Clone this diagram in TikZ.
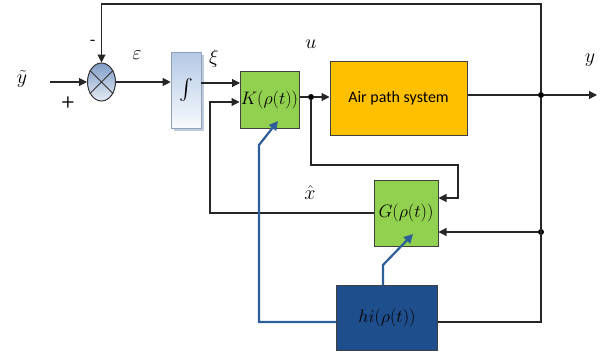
\documentclass[tikz,border=0pt]{standalone}
\usepackage{amsmath}
\usepackage{fontspec}
\usepackage{fix-cm}
\newfontfamily\calibri{Carlito}
\usetikzlibrary{arrows.meta,shapes.geometric,shadows}
\definecolor{kgreen}{HTML}{92D050}
\definecolor{airorange}{HTML}{FFC000}
\definecolor{hiblue}{HTML}{1F4E8C}
\definecolor{arrblue}{HTML}{2F5D99}
\definecolor{intblue}{HTML}{B4C9E6}
\definecolor{sumtop}{HTML}{7F9CC6}
\definecolor{sumbot}{HTML}{E6ECF5}
\begin{document}
\begin{tikzpicture}[x=1pt,y=-1pt,
  line/.style={draw=black!85, line width=1.1pt},
  arr/.style={line, -{Triangle[length=8pt,width=8pt]}},
  blk/.style={draw=black!75, line width=1pt, inner sep=0pt},
  dot/.style={circle, fill=black, inner sep=0pt, minimum size=6pt},
  bluearr/.style={draw=arrblue, line width=2.2pt, -{Triangle[length=9pt,width=9pt]}},
  lbl/.style={font=\fontsize{18}{22}\selectfont},
  sym/.style={font=\fontsize{20}{24}\selectfont}
]
\useasboundingbox (0,0) rectangle (610,356);

% blocks
\node[ellipse, draw=black!80, line width=1pt, minimum width=28pt, minimum height=38pt, inner sep=0pt,
  top color=sumtop, bottom color=sumbot] (sum) at (101.5,82) {};
\draw[line width=0.9pt, black!80] (sum.45) -- (sum.225) (sum.135) -- (sum.315);

\node[rectangle, draw=intblue!80!black, line width=0.6pt, minimum width=30pt, minimum height=76pt, inner sep=0pt,
  top color=intblue, bottom color=white!90!intblue,
  drop shadow={shadow xshift=3pt, shadow yshift=-3pt, fill=intblue!90!black, opacity=0.7}, sym] (int) at (186,90) {$\int$};

\node[blk, fill=kgreen, minimum width=59pt, minimum height=57pt, lbl] (K) at (269.5,99.5) {$K(\rho(t))$};
\node[blk, fill=airorange, minimum width=137pt, minimum height=74pt, font=\calibri\fontsize{16}{19}\selectfont] (air) at (398.5,98) {Air path system};
\node[blk, fill=kgreen, minimum width=64pt, minimum height=66pt, lbl] (G) at (406,213) {$G(\rho(t))$};
\node[blk, fill=hiblue, minimum width=101pt, minimum height=65pt, lbl] (hi) at (387,318) {$hi(\rho(t))$};

% junctions
\node[dot] (ud) at (311,97) {};
\node[dot] (jy) at (541,95) {};
\node[dot] (jg) at (541,232) {};
\coordinate (top) at (541,4);
\coordinate (in) at (50,82);
\coordinate (out) at (597,95);
\coordinate (ky1) at (240,83);
\coordinate (fb) at (210,102);
\coordinate (g1) at (458,165);
\coordinate (kb1) at (259,145);
\coordinate (kb) at (278,121);
\coordinate (gb1) at (383,265);
\coordinate (gb) at (413,234);

% connectors
\draw[arr] (in) -- (sum.west);
\draw[arr] (jy) |- (sum.north |- top) -- (sum.north);
\draw[arr] (sum.east) -- (sum.east -| int.west);
\draw[arr] (int.east |- ky1) -- (ky1);
\draw[arr] (G.west) -| (fb) -- (fb -| K.west);
\draw[line] (K.east |- ud) -- (ud);
\draw[arr] (ud) -- (ud -| air.west);
\draw[arr] (ud) |- (g1) |- ([yshift=15pt]G.east);
\draw[line] (air.east |- jy) -- (jy);
\draw[arr] (jy) -- (out);
\draw[arr] (jg) -- (jg -| G.east);
\draw[line] ([yshift=-4pt]hi.east) -| (jy);
\draw[bluearr] ([yshift=-4pt]hi.west) -| (kb1) -- (kb);
\draw[bluearr] (hi.north -| gb1) -- (gb1) -- (gb);

% labels
\node[sym] (lyt) at (22,79) {$\tilde{y}$};
\node[font=\sffamily\bfseries\fontsize{16}{18}\selectfont] (lp) at (68,102) {+};
\node[font=\sffamily\bfseries\fontsize{16}{18}\selectfont] (lm) at (93,42) {-};
\node[sym] (leps) at (137,55) {$\varepsilon$};
\node[sym] (lxi) at (214,58) {$\xi$};
\node[sym] (lu) at (311,44) {$u$};
\node[sym] (lxh) at (310,193) {$\hat{x}$};
\node[sym] (ly) at (590,60) {$y$};
\end{tikzpicture}
\end{document}
